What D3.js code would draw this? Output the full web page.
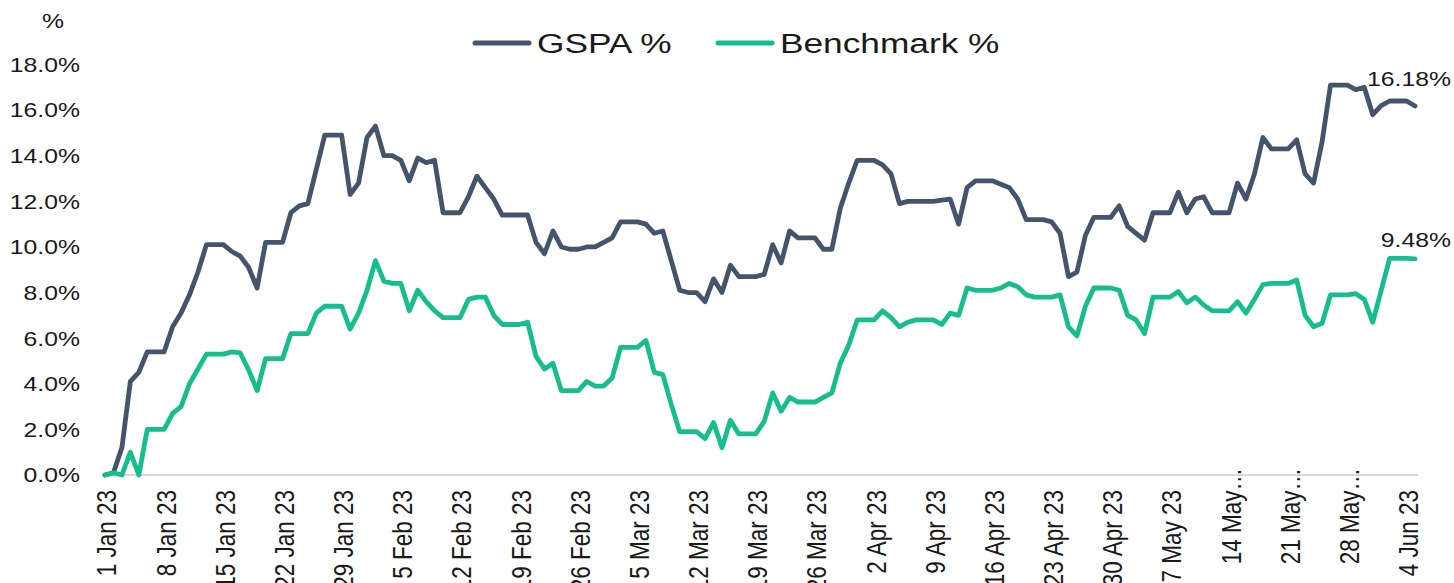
<!DOCTYPE html>
<html>
<head>
<meta charset="utf-8">
<script src="https://cdn.jsdelivr.net/npm/d3@7"></script>
<style>
  html, body { margin: 0; padding: 0; background: #fff; overflow: hidden; }
  text { font-family: "Liberation Sans", Arial, sans-serif; fill: #1a1a1a; }
</style>
</head>
<body>
<div class="chart"></div>
<script>
// daily values, 1 Jan 23 .. 5 Jun 23 (weekends carry Friday's close)
var gspa = [
  0.0, 0.1, 1.2, 4.1, 4.5, 5.4, 5.4, 5.4, 6.5, 7.1, 7.9, 8.9, 10.1, 10.1,
  10.1, 9.8, 9.6, 9.1, 8.2, 10.2, 10.2, 10.2, 11.5, 11.8, 11.9, 13.4, 14.9, 14.9,
  14.9, 12.3, 12.8, 14.8, 15.3, 14.0, 14.0, 13.8, 12.9, 13.9, 13.7, 13.8, 11.5, 11.5,
  11.5, 12.2, 13.1, 12.6, 12.1, 11.4, 11.4, 11.4, 11.4, 10.2, 9.7, 10.7, 10.0, 9.9,
  9.9, 10.0, 10.0, 10.2, 10.4, 11.1, 11.1, 11.1, 11.0, 10.6, 10.7, 9.4, 8.1, 8.0,
  8.0, 7.6, 8.6, 8.0, 9.2, 8.7, 8.7, 8.7, 8.8, 10.1, 9.3, 10.7, 10.4, 10.4,
  10.4, 9.9, 9.9, 11.7, 12.8, 13.8, 13.8, 13.8, 13.6, 13.2, 11.9, 12.0, 12.0, 12.0,
  12.0, 12.05, 12.1, 11.0, 12.6, 12.9, 12.9, 12.9, 12.75, 12.6, 12.1, 11.2, 11.2, 11.2,
  11.1, 10.6, 8.7, 8.9, 10.5, 11.3, 11.3, 11.3, 11.8, 10.9, 10.6, 10.3, 11.5, 11.5,
  11.5, 12.4, 11.5, 12.1, 12.2, 11.5, 11.5, 11.5, 12.8, 12.1, 13.2, 14.8, 14.3, 14.3,
  14.3, 14.7, 13.2, 12.8, 14.6, 17.1, 17.1, 17.1, 16.9, 17.0, 15.8, 16.2, 16.4, 16.4,
  16.4, 16.18
];
var benchmark = [
  0.0, 0.1, 0.0, 1.0, 0.0, 2.0, 2.0, 2.0, 2.7, 3.0, 4.0, 4.65, 5.3, 5.3,
  5.3, 5.4, 5.35, 4.6, 3.7, 5.1, 5.1, 5.1, 6.2, 6.2, 6.2, 7.1, 7.4, 7.4,
  7.4, 6.4, 7.1, 8.1, 9.4, 8.5, 8.4, 8.4, 7.2, 8.1, 7.6, 7.2, 6.9, 6.9,
  6.9, 7.7, 7.8, 7.8, 7.0, 6.6, 6.6, 6.6, 6.7, 5.2, 4.65, 4.9, 3.7, 3.7,
  3.7, 4.1, 3.9, 3.9, 4.25, 5.6, 5.6, 5.6, 5.9, 4.5, 4.4, 3.1, 1.9, 1.9,
  1.9, 1.6, 2.3, 1.2, 2.4, 1.8, 1.8, 1.8, 2.35, 3.6, 2.8, 3.4, 3.2, 3.2,
  3.2, 3.4, 3.6, 4.9, 5.7, 6.8, 6.8, 6.8, 7.2, 6.9, 6.5, 6.7, 6.8, 6.8,
  6.8, 6.6, 7.1, 7.0, 8.2, 8.1, 8.1, 8.1, 8.2, 8.4, 8.25, 7.9, 7.8, 7.8,
  7.8, 7.9, 6.5, 6.1, 7.4, 8.2, 8.2, 8.2, 8.1, 7.0, 6.8, 6.2, 7.8, 7.8,
  7.8, 8.05, 7.55, 7.8, 7.45, 7.2, 7.2, 7.2, 7.6, 7.1, 7.7, 8.35, 8.4, 8.4,
  8.4, 8.55, 7.0, 6.5, 6.65, 7.9, 7.9, 7.9, 7.95, 7.7, 6.7, 8.1, 9.5, 9.5,
  9.5, 9.48
];
var seriesNames = ["GSPA %", "Benchmark %"];
var seriesColors = ["#44546a", "#17be8d"];
var lastLabels = ["16.18%", "9.48%"];
var yTicks = [0, 2, 4, 6, 8, 10, 12, 14, 16, 18];
var xTickLabels = [
  "1 Jan 23", "8 Jan 23", "15 Jan 23", "22 Jan 23", "29 Jan 23", "5 Feb 23",
  "12 Feb 23", "19 Feb 23", "26 Feb 23", "5 Mar 23", "12 Mar 23", "19 Mar 23",
  "26 Mar 23", "2 Apr 23", "9 Apr 23", "16 Apr 23", "23 Apr 23", "30 Apr 23",
  "7 May 23", "14 May\u2026", "21 May\u2026", "28 May\u2026", "4 Jun 23"
];

document.addEventListener("DOMContentLoaded", draw)
function draw(){
  var width = 1454,
      height = 583,
      start = new Date(2023, 0, 1),
      end = d3.timeDay.offset(start, gspa.length - 1);

  var svg = d3.select(".chart").append("svg")
    .attr("width", width)
    .attr("height", height)

  var x = d3.scaleTime().domain([start, end]).range([105, 1415]),
      y = d3.scaleLinear().domain([0, 18]).range([475, 64.5]),
      day = function(i){ return d3.timeDay.offset(start, i) }

  // y axis labels
  svg.append("g").selectAll("text")
    .data(yTicks)
    .enter().append("text")
    .attr("transform", function(d){ return `translate(80,${y(d)}) scale(1.18,1)` })
    .attr("dy", "0.35em")
    .attr("text-anchor", "end")
    .style("font-size", "21px")
    .text(function(d){ return d3.format(".1f")(d) + "%" })

  svg.append("text")
    .attr("transform", "translate(53,28) scale(1.18,1)")
    .attr("text-anchor", "middle")
    .style("font-size", "21px")
    .text("%")

  // baseline
  svg.append("line")
    .attr("x1", 102).attr("x2", 1418)
    .attr("y1", y(0)).attr("y2", y(0))
    .attr("stroke", "#d9d9d9")
    .attr("stroke-width", 2)

  // x labels, one per week
  svg.append("g").selectAll("text")
    .data(xTickLabels)
    .enter().append("text")
    .attr("transform", function(d, i){
      var top = d.indexOf("\u2026") > -1 ? 468 : 490;
      return `translate(${x(day(i * 7)) + 2},${top}) rotate(-90) scale(1,1.2)`
    })
    .attr("dy", "0.35em")
    .attr("text-anchor", "end")
    .style("font-size", "22.5px")
    .text(function(d){ return d })

  var line = d3.line()
    .x(function(d, i){ return x(day(i)) })
    .y(function(d){ return y(d) })

  svg.append("g").selectAll("path")
    .data([gspa, benchmark])
    .enter().append("path")
    .attr("d", line)
    .attr("fill", "none")
    .attr("stroke", function(d, i){ return seriesColors[i] })
    .attr("stroke-width", 4.8)
    .attr("stroke-linejoin", "round")
    .attr("stroke-linecap", "round")

  // end labels
  var lastY = [86, 247];
  svg.append("g").selectAll("text")
    .data(lastLabels)
    .enter().append("text")
    .attr("transform", function(d, i){ return `translate(1451,${lastY[i]}) scale(1.18,1)` })
    .attr("text-anchor", "end")
    .style("font-size", "21px")
    .text(function(d){ return d })

  // legend
  var legendX = [475, 718];
  var legend = svg.append("g").selectAll("g")
    .data(seriesNames)
    .enter().append("g")
    .attr("transform", function(d, i){ return `translate(${legendX[i]},43)` })

  legend.append("line")
    .attr("x1", 0).attr("x2", 54)
    .attr("stroke", function(d, i){ return seriesColors[i] })
    .attr("stroke-width", 5)
    .attr("stroke-linecap", "round")

  legend.append("text")
    .attr("transform", "translate(62,0) scale(1.26,1)")
    .attr("dy", "0.36em")
    .style("font-size", "28px")
    .text(function(d){ return d })
}
</script>
</body>
</html>
